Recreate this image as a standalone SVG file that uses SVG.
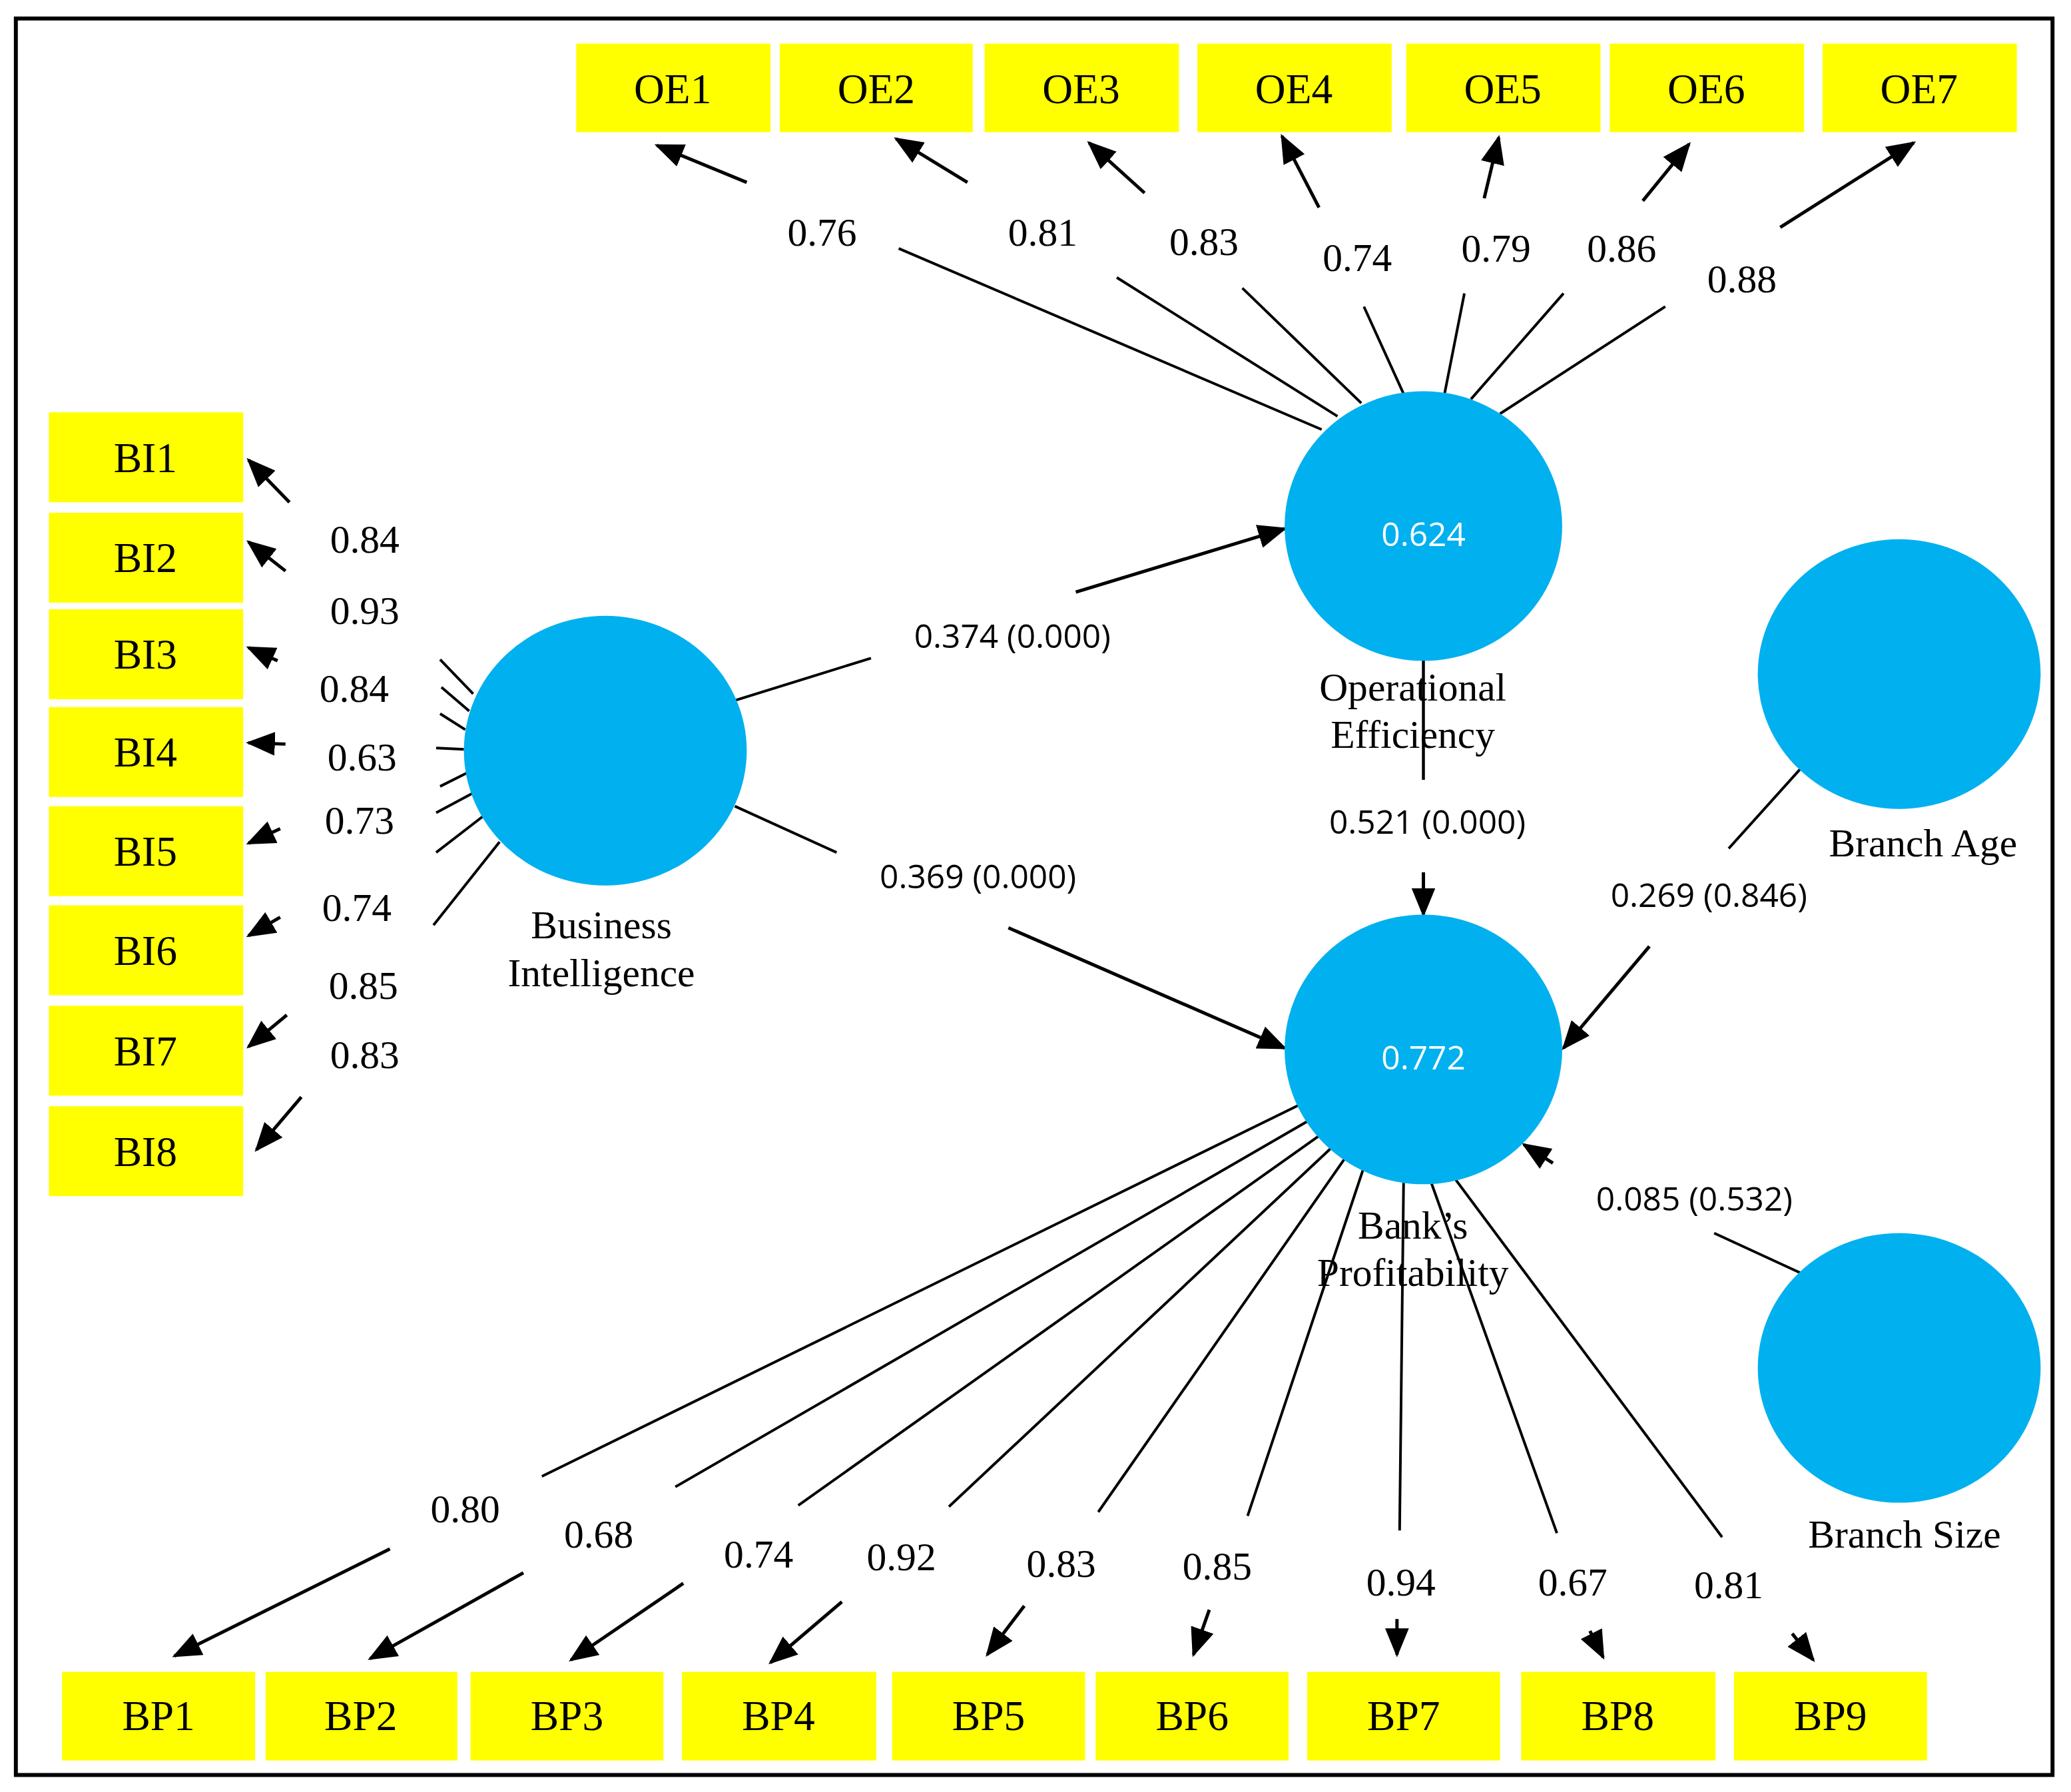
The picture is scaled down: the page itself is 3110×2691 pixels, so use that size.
<svg xmlns="http://www.w3.org/2000/svg" width="3110" height="2691" viewBox="0 0 3110 2691">
<style>
.box{fill:#ffff00}
.bt{font-family:"Liberation Serif",serif;font-size:32px;text-anchor:middle;fill:#000}
.lt{font-family:"Liberation Serif",serif;font-size:30px;text-anchor:middle;fill:#000}
.pt{font-family:"Open Sans","Liberation Sans",sans-serif;font-size:25px;text-anchor:middle;fill:#000}
.ct{font-family:"Open Sans","Liberation Sans",sans-serif;font-size:25px;text-anchor:middle;fill:#fff}
.circ{fill:#00b0ef}
.ln{stroke:#000;stroke-width:2;fill:none}
.ar{stroke:#000;stroke-width:2.5;fill:none;marker-end:url(#ah)}
</style>
<defs>
<marker id="ah" markerUnits="userSpaceOnUse" markerWidth="22" markerHeight="18" refX="20" refY="9" orient="auto">
<path d="M0,0 L22,9 L0,18 Z" fill="#000"/>
</marker>
</defs>
<rect width="3110" height="2691" fill="#fff"/>
<g transform="scale(1.9847)">
<rect x="12" y="14" width="1541" height="1329" fill="none" stroke="#000" stroke-width="3"/>
<g id="connectors">
<path class="ln" d="M1000,325 L680,188 M1012,315 L845,210 M1030,305 L940,218 M1062,298 L1032,232 M1093,298 L1108,222 M1113,302 L1183,222 M1135,313 L1260,232"/>
<path class="ar" d="M565,138 L497,110"/><path class="ar" d="M732,138 L678,105"/><path class="ar" d="M866,146 L824,108"/><path class="ar" d="M998,157 L970,103"/><path class="ar" d="M1123,150 L1134,104"/><path class="ar" d="M1243,152 L1278,109"/><path class="ar" d="M1347,172 L1448,108"/>
<path class="ln" d="M358,525 L333,499 M355,538 L334,520 M352,552 L333,540 M351,567 L330,566 M353,585 L333,595 M358,600 L330,615 M365,618 L330,645 M378,637 L328,700"/>
<path class="ar" d="M219,380 L188,348"/><path class="ar" d="M216,432 L188,410"/><path class="ar" d="M210,500 L188,490"/><path class="ar" d="M216,563 L188,562"/><path class="ar" d="M212,627 L188,638"/><path class="ar" d="M212,694 L188,708"/><path class="ar" d="M217,768 L188,792"/><path class="ar" d="M228,830 L194,870"/>
<path class="ln" d="M556,530 L659,498"/><path class="ar" d="M814,448 L972,400"/>
<path class="ln" d="M556,610 L633,645"/><path class="ar" d="M763,702 L972,793"/>
<path class="ln" d="M1077,500 L1077,590"/><path class="ar" d="M1077,660 L1077,692"/>
<path class="ln" d="M1362,582 L1308,642"/><path class="ar" d="M1248,716 L1183,793"/>
<path class="ln" d="M1362,963 L1297,933"/><path class="ar" d="M1175,880 L1153,866"/>
<path class="ln" d="M983,836 L410,1117 M990,848 L511,1125 M1000,858 L604,1139 M1010,866 L718,1140 M1020,873 L831,1144 M1033,880 L944,1147 M1062,895 L1059,1158 M1083,895 L1178,1160 M1098,888 L1303,1163"/>
<path class="ar" d="M295,1172 L132,1253"/><path class="ar" d="M396,1190 L280,1255"/><path class="ar" d="M517,1198 L432,1256"/><path class="ar" d="M637,1212 L583,1258"/><path class="ar" d="M775,1215 L747,1252"/><path class="ar" d="M915,1218 L903,1252"/><path class="ar" d="M1057,1225 L1057,1252"/><path class="ar" d="M1203,1234 L1213,1254"/><path class="ar" d="M1356,1236 L1372,1256"/>
<g class="lt">
<text x="622" y="186">0.76</text><text x="789" y="186">0.81</text><text x="911" y="193">0.83</text><text x="1027" y="205">0.74</text><text x="1132" y="198">0.79</text><text x="1227" y="198">0.86</text><text x="1318" y="221">0.88</text>
<text x="276" y="418">0.84</text><text x="276" y="472">0.93</text><text x="268" y="531">0.84</text><text x="274" y="583">0.63</text><text x="272" y="631">0.73</text><text x="270" y="697">0.74</text><text x="275" y="756">0.85</text><text x="276" y="808">0.83</text>
<text x="352" y="1152">0.80</text><text x="453" y="1171">0.68</text><text x="574" y="1186">0.74</text><text x="682" y="1188">0.92</text><text x="803" y="1193">0.83</text><text x="921" y="1195">0.85</text><text x="1060" y="1207">0.94</text><text x="1190" y="1207">0.67</text><text x="1308" y="1209">0.81</text>
</g>
<g class="pt">
<text x="766" y="490">0.374 (0.000)</text><text x="740" y="672">0.369 (0.000)</text><text x="1080" y="631">0.521 (0.000)</text><text x="1293" y="686">0.269 (0.846)</text><text x="1282" y="916">0.085 (0.532)</text>
</g>
</g>
<g id="OE1"><rect class="box" x="436" y="33" width="147" height="67"/><text class="bt" x="509" y="78">OE1</text></g>
<g id="OE2"><rect class="box" x="590" y="33" width="146" height="67"/><text class="bt" x="663" y="78">OE2</text></g>
<g id="OE3"><rect class="box" x="745" y="33" width="147" height="67"/><text class="bt" x="818" y="78">OE3</text></g>
<g id="OE4"><rect class="box" x="906" y="33" width="147" height="67"/><text class="bt" x="979" y="78">OE4</text></g>
<g id="OE5"><rect class="box" x="1064" y="33" width="147" height="67"/><text class="bt" x="1137" y="78">OE5</text></g>
<g id="OE6"><rect class="box" x="1218" y="33" width="147" height="67"/><text class="bt" x="1291" y="78">OE6</text></g>
<g id="OE7"><rect class="box" x="1379" y="33" width="147" height="67"/><text class="bt" x="1452" y="78">OE7</text></g>
<g id="BI1"><rect class="box" x="37" y="312" width="147" height="68"/><text class="bt" x="110" y="357">BI1</text></g>
<g id="BI2"><rect class="box" x="37" y="388" width="147" height="68"/><text class="bt" x="110" y="433">BI2</text></g>
<g id="BI3"><rect class="box" x="37" y="461" width="147" height="68"/><text class="bt" x="110" y="506">BI3</text></g>
<g id="BI4"><rect class="box" x="37" y="535" width="147" height="68"/><text class="bt" x="110" y="580">BI4</text></g>
<g id="BI5"><rect class="box" x="37" y="610" width="147" height="68"/><text class="bt" x="110" y="655">BI5</text></g>
<g id="BI6"><rect class="box" x="37" y="685" width="147" height="68"/><text class="bt" x="110" y="730">BI6</text></g>
<g id="BI7"><rect class="box" x="37" y="761" width="147" height="68"/><text class="bt" x="110" y="806">BI7</text></g>
<g id="BI8"><rect class="box" x="37" y="837" width="147" height="68"/><text class="bt" x="110" y="882">BI8</text></g>
<g id="BP1"><rect class="box" x="47" y="1265" width="146" height="67"/><text class="bt" x="120" y="1309">BP1</text></g>
<g id="BP2"><rect class="box" x="201" y="1265" width="145" height="67"/><text class="bt" x="273" y="1309">BP2</text></g>
<g id="BP3"><rect class="box" x="356" y="1265" width="146" height="67"/><text class="bt" x="429" y="1309">BP3</text></g>
<g id="BP4"><rect class="box" x="516" y="1265" width="147" height="67"/><text class="bt" x="589" y="1309">BP4</text></g>
<g id="BP5"><rect class="box" x="675" y="1265" width="146" height="67"/><text class="bt" x="748" y="1309">BP5</text></g>
<g id="BP6"><rect class="box" x="829" y="1265" width="146" height="67"/><text class="bt" x="902" y="1309">BP6</text></g>
<g id="BP7"><rect class="box" x="989" y="1265" width="146" height="67"/><text class="bt" x="1062" y="1309">BP7</text></g>
<g id="BP8"><rect class="box" x="1151" y="1265" width="147" height="67"/><text class="bt" x="1224" y="1309">BP8</text></g>
<g id="BP9"><rect class="box" x="1312" y="1265" width="146" height="67"/><text class="bt" x="1385" y="1309">BP9</text></g>
<g id="OE"><ellipse class="circ" cx="1077" cy="398" rx="105" ry="102"/><text class="ct" x="1077" y="413">0.624</text><text class="lt" x="1069" y="530">Operational</text><text class="lt" x="1069" y="566">Efficiency</text></g>
<g id="BI"><ellipse class="circ" cx="458" cy="568" rx="107" ry="102"/><text class="lt" x="455" y="710">Business</text><text class="lt" x="455" y="746">Intelligence</text></g>
<g id="BP"><ellipse class="circ" cx="1077" cy="794" rx="105" ry="102"/><text class="ct" x="1077" y="809">0.772</text><text class="lt" x="1069" y="937">Bank’s</text><text class="lt" x="1069" y="973">Profitability</text></g>
<g id="BA"><ellipse class="circ" cx="1437" cy="510" rx="107" ry="102"/><text class="lt" x="1455" y="648">Branch Age</text></g>
<g id="BS"><ellipse class="circ" cx="1437" cy="1035" rx="107" ry="102"/><text class="lt" x="1441" y="1171">Branch Size</text></g>
<path class="ln" d="M1077,500 L1077,590"/>
</g>
</svg>
